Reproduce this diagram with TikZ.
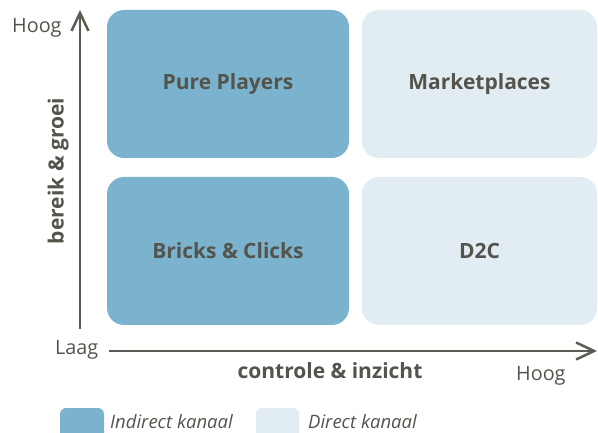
\documentclass[tikz,border=0pt]{standalone}
\usepackage{fontspec}
\setmainfont{Open Sans}
\usetikzlibrary{arrows.meta}
\definecolor{darkbox}{HTML}{7BB3CE}
\definecolor{lightbox}{HTML}{E1ECF3}
\definecolor{txt}{HTML}{54534C}
\definecolor{axis}{HTML}{5B5B53}
\tikzset{
  quad/.style={rounded corners=17pt, minimum width=#1, minimum height=148pt, inner sep=0pt,
    font=\fontsize{21}{25}\selectfont\bfseries, text=txt},
  legbox/.style={rounded corners=6pt},
  lbl/.style={font=\fontsize{19.8}{23}\selectfont, text=txt, inner sep=0pt},
  axlbl/.style={font=\fontsize{21}{25}\selectfont\bfseries, text=txt, inner sep=0pt},
  legtxt/.style={font=\fontsize{18.5}{22}\selectfont\itshape, text=txt, inner sep=0pt},
  axarrow/.style={draw=axis, line width=2.5pt, -{Straight Barb[length=18pt,width=17pt,line width=2.5pt]}}
}
\begin{document}
\begin{tikzpicture}[x=1pt,y=-1pt]
\useasboundingbox (0,0) rectangle (598,433);
% quadrants
\node[quad=242pt, fill=darkbox] (pp) at (228,84) {Pure Players};
\node[quad=235pt, fill=lightbox] (mp) at (479.5,84) {Marketplaces};
\node[quad=242pt, fill=darkbox] (bc) at (228,251) {Bricks \& Clicks};
\node[quad=235pt, fill=lightbox] (d2c) at (479.5,251) {D2C};
% axes
\coordinate (yb) at (80,329);
\coordinate (yt) at (80,10);
\coordinate (xl) at (109,351);
\coordinate (xr) at (597,351);
\draw[axarrow] (yb) -- (yt);
\draw[axarrow] (xl) -- (xr);
% labels
\node[lbl, anchor=base west] (hy) at (12,33) {Hoog};
\node[lbl, anchor=base west] (laag) at (55,355) {Laag};
\node[lbl, anchor=base west] (hx) at (516,380) {Hoog};
\node[axlbl, anchor=base] (xt) at (330,378) {controle \& inzicht};
\node[axlbl, anchor=base, rotate=90] (yt2) at (63.5,171) {bereik \& groei};
% legend
\path[fill=darkbox, legbox] (60,408) rectangle (104,440);
\node[legtxt, anchor=base west] (l1) at (110,428) {Indirect kanaal};
\path[fill=lightbox, legbox] (256,408) rectangle (299,440);
\node[legtxt, anchor=base west] (l2) at (308,428) {Direct kanaal};
\end{tikzpicture}
\end{document}
